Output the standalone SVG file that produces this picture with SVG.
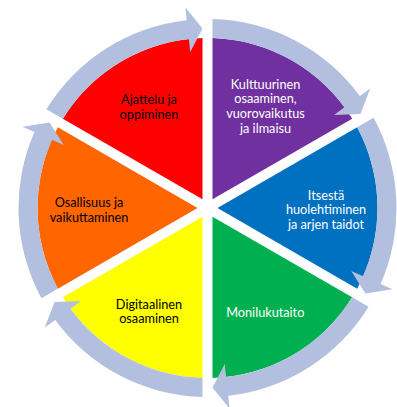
<svg xmlns="http://www.w3.org/2000/svg" width="397" height="407" viewBox="0 0 397 407">
<defs>
<style>
.lbl{font-family:Lato,"Open Sans","Liberation Sans",sans-serif;font-size:12.7px;text-anchor:middle}
.dk{fill:#000}
.lt{fill:#fff}
.ring{fill:#B2BFDF}
</style>
<path id="sec" d="M202.5 199.34 L62.84 118.7 A170 170 0 0 1 202.5 38.07 Z"/>
<path id="arr" d="M62.84 118.7 L46.38 109.2 A189 189 0 0 1 186.76 20.14 L185.33 7.22 L202.49 28.57 L190.27 51.95 L188.85 39.03 A170 170 0 0 0 62.84 118.7 Z"/>
</defs>
<rect width="397" height="407" fill="#fff"/>
<g id="node-ajattelu">
<use href="#sec" fill="#FF0000"/>
<text class="lbl dk" x="149" y="103.5">Ajattelu ja</text>
<text class="lbl dk" x="149" y="118.5">oppiminen</text>
</g>
<g id="node-kulttuurinen">
<use href="#sec" fill="#7030A0" transform="rotate(60 207.5 208)"/>
<text class="lbl lt" x="265.5" y="88.5">Kulttuurinen</text>
<text class="lbl lt" x="265.5" y="103.2">osaaminen,</text>
<text class="lbl lt" x="265.5" y="117.9">vuorovaikutus</text>
<text class="lbl lt" x="265.5" y="132.6">ja ilmaisu</text>
</g>
<g id="node-itsesta">
<use href="#sec" fill="#0070C0" transform="rotate(120 207.5 208)"/>
<text class="lbl lt" x="326" y="199.5">Itsestä</text>
<text class="lbl lt" x="326" y="214.2">huolehtiminen</text>
<text class="lbl lt" x="326" y="228.7">ja arjen taidot</text>
</g>
<g id="node-monilukutaito">
<use href="#sec" fill="#00B050" transform="rotate(180 207.5 208)"/>
<text class="lbl lt" x="265.3" y="317">Monilukutaito</text>
</g>
<g id="node-digitaalinen">
<use href="#sec" fill="#FFFF00" transform="rotate(240 207.5 208)"/>
<text class="lbl dk" x="149" y="308.5">Digitaalinen</text>
<text class="lbl dk" x="149" y="323">osaaminen</text>
</g>
<g id="node-osallisuus">
<use href="#sec" fill="#FF6600" transform="rotate(300 207.5 208)"/>
<text class="lbl dk" x="89" y="207.3">Osallisuus ja</text>
<text class="lbl dk" x="89" y="221.8">vaikuttaminen</text>
</g>
<g id="connectors" class="ring">
<use href="#arr"/>
<use href="#arr" transform="rotate(60 207.5 208)"/>
<use href="#arr" transform="rotate(120 207.5 208)"/>
<use href="#arr" transform="rotate(180 207.5 208)"/>
<use href="#arr" transform="rotate(240 207.5 208)"/>
<use href="#arr" transform="rotate(300 207.5 208)"/>
</g>
</svg>
